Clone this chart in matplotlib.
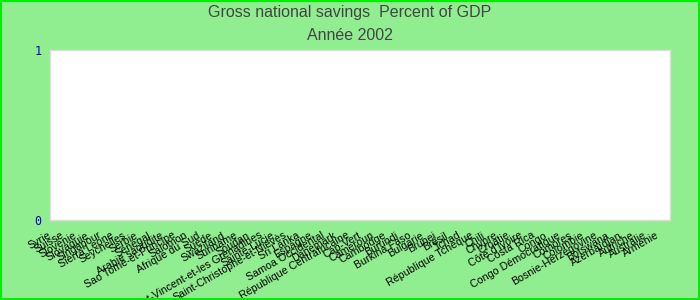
import matplotlib
matplotlib.use("Agg")
import matplotlib.pyplot as plt
import matplotlib.transforms as mtransforms
from matplotlib import font_manager

countries = [
    "Syrie", "Suisse", "Slovénie", "Slovaquie", "Singapour", "Sierra Leone",
    "Seychelles", "Serbie", "Sénégal", "Arabie saoudite", "Sao Tomé-et-Principe",
    "Salomon", "Afrique du Sud", "Suède", "Swaziland", "Suriname", "Soudan",
    "Saint-Vincent-et-les Grenadines", "Sainte-Lucie", "Saint-Christophe-et-Niévès",
    "Sri Lanka", "Espagne", "Samoa Occidental", "Danemark",
    "République Centrafricaine", "Cap-Vert", "Cameroun", "Cambodge", "Burundi",
    "Burkina Faso", "Bulgarie", "Brunei", "Brésil", "Tchad", "République Tchèque",
    "Chili", "Chypre", "Croatie", "Côte d'Ivoire", "Costa Rica", "Congo",
    "Congo Démocratique", "Comores", "Colombie", "Bosnie-Herzégovine", "Botswana",
    "Azerbaïdjan", "Autriche", "Australie", "Arménie",
]
values = [0, 0, 0, 0, 0, 0, 0, 0, 0, 0, 0, 0, 0, 0, 0, 0, 0, 0, 0, 0, 0, 0, 0, 0, 0,
          0, 0, 0, 0, 0, 0, 0, 0, 0, 0, 0, 0, 0, 0, 0, 0, 0, 0, 0, 0, 0, 0, 0, 0, 0]
yticks = [0, 1]
title = "Gross national savings  Percent of GDP"
subtitle = "Année 2002"

names = {f.name for f in font_manager.fontManager.ttflist}
title_font = "Liberation Sans Narrow" if "Liberation Sans Narrow" in names else "Liberation Sans"

fig = plt.figure(figsize=(7, 3), dpi=100, facecolor="#90ee90")
ax = fig.add_axes([50 / 700, 1 - 220 / 300, 620 / 700, 170 / 300])
ax.set_facecolor("white")

x = list(range(len(countries)))
ax.bar(x, values, width=0.8, color="#4f81bd", linewidth=0)
ax.set_xlim(-0.5, len(countries) - 0.5)
ax.set_ylim(0, 1)

ax.set_yticks(yticks)
ax.set_yticklabels([str(v) for v in yticks], color="#0000cc",
                   fontfamily="DejaVu Sans Mono", fontsize=8.5)
ax.tick_params(axis="y", length=0, pad=6)

ax.set_xticks(x)
ax.set_xticklabels(countries, rotation=30, ha="right", rotation_mode="anchor",
                   fontfamily="Liberation Sans", fontsize=7.7, color="black")
ax.tick_params(axis="x", length=0, pad=3)
offset = mtransforms.ScaledTranslation(-8 / 100, -6 / 100, fig.dpi_scale_trans)
for lab in ax.get_xticklabels():
    lab.set_transform(lab.get_transform() + offset)

for s in ax.spines.values():
    s.set_color("#dddddd")
    s.set_linewidth(1)

fig.text(0.5, 1 - 13 / 300, title, ha="center", va="center",
         fontfamily=title_font, fontsize=11.5, color="#444444")
fig.text(0.5, 1 - 36 / 300, subtitle, ha="center", va="center",
         fontfamily=title_font, fontsize=11.5, color="#444444")

border = plt.Rectangle((0.001, 0.002), 0.998, 0.995, transform=fig.transFigure,
                       fill=False, edgecolor="#00ee00", linewidth=1.5)
fig.patches.append(border)

fig.savefig("out.png", dpi=100, facecolor=fig.get_facecolor())
